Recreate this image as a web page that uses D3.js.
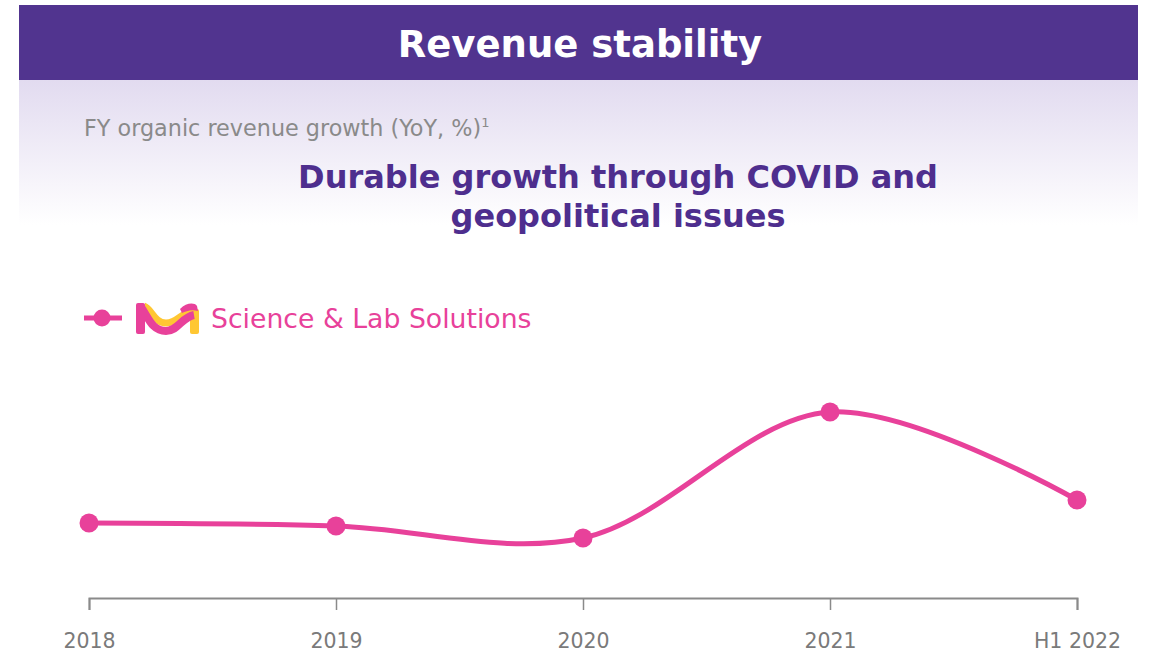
<!DOCTYPE html>
<html>
<head>
<meta charset="utf-8">
<script src="https://cdn.jsdelivr.net/npm/d3@7"></script>
<style>
  html, body { margin: 0; padding: 0; background: #fff; }
  svg { display: block; font-family: "DejaVu Sans", Verdana, sans-serif; }
</style>
</head>
<body>
<svg id="chart" width="1150" height="652"></svg>
<script>
// Organic revenue growth, Science & Lab Solutions
const periods = ["2018", "2019", "2020", "2021", "H1 2022"];
const growth = [7.5, 7.2, 6.0, 18.6, 9.8];
const seriesName = "Science & Lab Solutions";

const pink = "#E8419A";
const yellow = "#FFC733";
const purple = "#51348F";
const grey = "#8a8a8a";

const svg = d3.select("#chart");

// Header band
svg.append("rect").attr("x", 19).attr("y", 5).attr("width", 1119).attr("height", 75).attr("fill", purple);
svg.append("text").attr("x", 580).attr("y", 57).attr("text-anchor", "middle")
  .attr("fill", "#fff").attr("font-weight", "bold").attr("font-size", 37)
  .text("Revenue stability");

// Soft lavender fade beneath the header
const defs = svg.append("defs");
const grad = defs.append("linearGradient").attr("id", "fade").attr("x1", 0).attr("y1", 0).attr("x2", 0).attr("y2", 1);
grad.append("stop").attr("offset", "0%").attr("stop-color", "#E2DBF0");
grad.append("stop").attr("offset", "100%").attr("stop-color", "#ffffff");
svg.append("rect").attr("x", 19).attr("y", 80).attr("width", 1119).attr("height", 145).attr("fill", "url(#fade)");

// Subtitle
const sub = svg.append("text").attr("x", 84).attr("y", 136).attr("fill", grey).attr("font-size", 22.3);
sub.append("tspan").text("FY organic revenue growth (YoY, %)");
sub.append("tspan").attr("font-size", 13).attr("dy", -9).text("1");

// Headline
const head = svg.append("text").attr("text-anchor", "middle").attr("fill", "#4E2E8E")
  .attr("font-weight", "bold").attr("font-size", 32);
head.append("tspan").attr("x", 618).attr("y", 188).text("Durable growth through COVID and");
head.append("tspan").attr("x", 618).attr("y", 227).text("geopolitical issues");

// Scales
const x = d3.scalePoint().domain(periods).range([89, 1077]);
const y = d3.scaleLinear().domain([0, 18.6]).range([598, 412]);

// Axis
const axis = d3.axisBottom(x).tickSizeInner(12).tickSizeOuter(12).tickPadding(23);
const gAxis = svg.append("g").attr("transform", "translate(0,598)").call(axis);
gAxis.select(".domain").attr("stroke", grey).attr("stroke-width", 2);
gAxis.selectAll(".tick line").attr("stroke", grey).attr("stroke-width", 1.5);
gAxis.selectAll(".tick text").attr("fill", "#7a7a7a").attr("font-size", 20.5)
  .attr("font-family", "DejaVu Sans, Verdana, sans-serif");

// Series line
const line = d3.line()
  .x((d, i) => x(periods[i]))
  .y(d => y(d))
  .curve(d3.curveCatmullRom.alpha(0.5));
svg.append("path").datum(growth).attr("d", line)
  .attr("fill", "none").attr("stroke", pink).attr("stroke-width", 5);
svg.append("g").selectAll("circle").data(growth).join("circle")
  .attr("cx", (d, i) => x(periods[i])).attr("cy", d => y(d)).attr("r", 9.5).attr("fill", pink);

// Legend
const lg = svg.append("g").attr("transform", "translate(0,318)");
lg.append("line").attr("x1", 84).attr("x2", 122).attr("y1", 0).attr("y2", 0)
  .attr("stroke", pink).attr("stroke-width", 5);
lg.append("circle").attr("cx", 102).attr("cy", 0).attr("r", 8.5).attr("fill", pink);

// Ribbon emblem
const logo = lg.append("g").attr("transform", "translate(136,-15)");
logo.append("rect").attr("x", 54).attr("y", 6).attr("width", 9).attr("height", 25).attr("rx", 2).attr("fill", yellow);
logo.append("path").attr("fill", "none").attr("stroke", yellow).attr("stroke-width", 7)
  .attr("d", "M8,3 C16,6 18,20 30,20 C42,20 46,8 58,8");
logo.append("path").attr("fill", "none").attr("stroke", pink).attr("stroke-width", 8)
  .attr("d", "M5,4 C12,14 16,28 30,28 C42,28 46,14 58,12");
logo.append("path").attr("fill", pink)
  .attr("d", "M44,6 C50,0 58,-1 61,3 L62,8 C56,6 50,8 46,10 Z");
logo.append("rect").attr("x", 0).attr("y", 0).attr("width", 9).attr("height", 31).attr("rx", 2).attr("fill", pink);
lg.append("text").attr("x", 211).attr("y", 10).attr("fill", pink).attr("font-size", 26.7)
  .text(seriesName);
</script>
</body>
</html>
